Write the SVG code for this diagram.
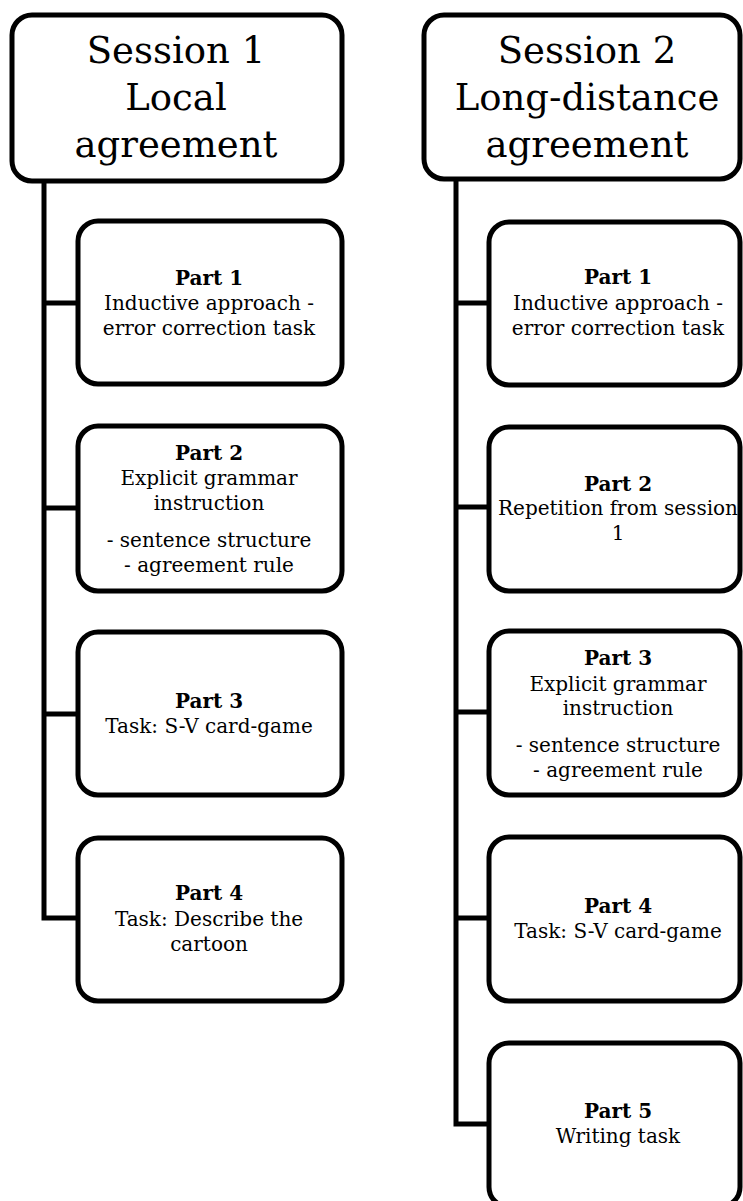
<svg xmlns="http://www.w3.org/2000/svg" width="743" height="1201" viewBox="0 0 743 1201">
<style>
.box{fill:#fff;stroke:#000;stroke-width:5}
.ln{fill:none;stroke:#000;stroke-width:5}
.h{font-family:"DejaVu Serif","Liberation Serif",serif;font-size:37px;text-anchor:middle;fill:#000}
.t{font-family:"DejaVu Serif","Liberation Serif",serif;font-size:20px;text-anchor:middle;fill:#000}
.b{font-weight:bold}
</style>
<rect width="743" height="1201" fill="#fff"/>
<g id="connectors">
<path class="ln" d="M44 182 V918 H79 M44 303 H79 M44 508 H79 M44 714 H79"/>
<path class="ln" d="M456 180 V1124 H490 M456 303 H490 M456 507 H490 M456 712 H490 M456 918 H490"/>
</g>
<g id="s1">
<rect class="box" x="12" y="15" width="330" height="166" rx="20"/>
<text class="h" x="176" y="63">Session 1</text>
<text class="h" x="176" y="110">Local</text>
<text class="h" x="176" y="157">agreement</text>
</g>
<g id="s2">
<rect class="box" x="424" y="15" width="316" height="164" rx="20"/>
<text class="h" x="587" y="63">Session 2</text>
<text class="h" x="587" y="110">Long-distance</text>
<text class="h" x="587" y="157">agreement</text>
</g>
<g id="s1p1">
<rect class="box" x="78" y="221" width="264" height="163" rx="20"/>
<text class="t b" x="209" y="285">Part 1</text>
<text class="t" x="209" y="310">Inductive approach -</text>
<text class="t" x="209" y="335">error correction task</text>
</g>
<g id="s1p2">
<rect class="box" x="78" y="426" width="264" height="165" rx="20"/>
<text class="t b" x="209" y="460">Part 2</text>
<text class="t" x="209" y="485">Explicit grammar</text>
<text class="t" x="209" y="510">instruction</text>
<text class="t" x="209" y="547">- sentence structure</text>
<text class="t" x="209" y="572">- agreement rule</text>
</g>
<g id="s1p3">
<rect class="box" x="78" y="632" width="264" height="163" rx="20"/>
<text class="t b" x="209" y="708">Part 3</text>
<text class="t" x="209" y="733">Task: S-V card-game</text>
</g>
<g id="s1p4">
<rect class="box" x="78" y="838" width="264" height="163" rx="20"/>
<text class="t b" x="209" y="900">Part 4</text>
<text class="t" x="209" y="926">Task: Describe the</text>
<text class="t" x="209" y="951">cartoon</text>
</g>
<g id="s2p1">
<rect class="box" x="489" y="222" width="251" height="163" rx="20"/>
<text class="t b" x="618" y="284">Part 1</text>
<text class="t" x="618" y="310">Inductive approach -</text>
<text class="t" x="618" y="335">error correction task</text>
</g>
<g id="s2p2">
<rect class="box" x="489" y="427" width="251" height="164" rx="20"/>
<text class="t b" x="618" y="491">Part 2</text>
<text class="t" x="618" y="515">Repetition from session</text>
<text class="t" x="618" y="540">1</text>
</g>
<g id="s2p3">
<rect class="box" x="489" y="631" width="251" height="164" rx="20"/>
<text class="t b" x="618" y="665">Part 3</text>
<text class="t" x="618" y="691">Explicit grammar</text>
<text class="t" x="618" y="715">instruction</text>
<text class="t" x="618" y="752">- sentence structure</text>
<text class="t" x="618" y="777">- agreement rule</text>
</g>
<g id="s2p4">
<rect class="box" x="489" y="837" width="251" height="164" rx="20"/>
<text class="t b" x="618" y="913">Part 4</text>
<text class="t" x="618" y="938">Task: S-V card-game</text>
</g>
<g id="s2p5">
<rect class="box" x="489" y="1043" width="251" height="164" rx="20"/>
<text class="t b" x="618" y="1118">Part 5</text>
<text class="t" x="618" y="1143">Writing task</text>
</g>
</svg>
